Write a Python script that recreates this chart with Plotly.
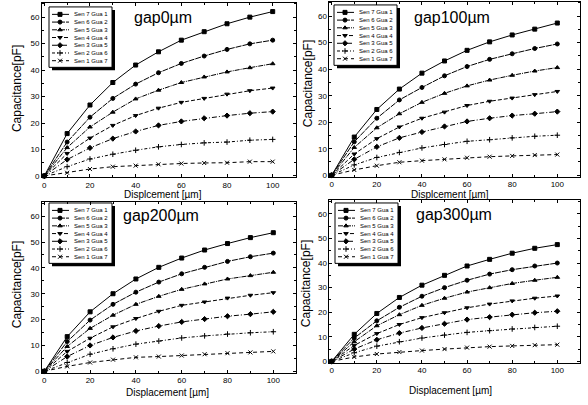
import plotly.graph_objects as go

W, H = 588, 405

displacement = [0, 10, 20, 30, 40, 50, 60, 70, 80, 90, 100]
series_names = ["Sen 7 Gua 1", "Sen 6 Gua 2", "Sen 5 Gua 3", "Sen 4 Gua 4",
                "Sen 3 Gua 5", "Sen 2 Gua 6", "Sen 1 Gua 7"]
gap_labels = ["gap0µm", "gap100µm", "gap200µm", "gap300µm"]
x_titles = ["Displcement [µm]", "Displcement [µm]", "Displacement [µm]", "Displacement [µm]"]
y_title = "Capacitance[pF]"
x_ticks = [0, 20, 40, 60, 80, 100]
y_ticks = [0, 10, 20, 30, 40, 50, 60]

gap0 = [
    [0, 16.0, 26.8, 35.3, 41.9, 46.9, 51.3, 54.5, 57.5, 60.0, 62.1],
    [0, 12.8, 22.2, 29.3, 34.7, 39.0, 42.5, 45.3, 47.8, 49.9, 51.3],
    [0, 10.7, 18.5, 24.1, 29.1, 32.4, 35.3, 37.4, 39.3, 40.9, 42.4],
    [0, 8.5, 14.3, 19.1, 22.8, 25.6, 27.8, 29.3, 30.9, 32.2, 33.2],
    [0, 6.2, 10.6, 14.1, 16.8, 19.1, 20.6, 21.8, 22.8, 23.7, 24.3],
    [0, 3.5, 6.4, 8.2, 9.7, 11.0, 11.9, 12.5, 12.8, 13.5, 13.8],
    [0, 1.2, 2.6, 3.5, 3.9, 4.4, 4.7, 4.9, 5.0, 5.4, 5.4],
]
gap100 = [
    [0, 14.4, 24.8, 32.5, 38.5, 43.1, 47.1, 50.3, 52.9, 55.1, 57.4],
    [0, 12.6, 21.5, 28.4, 33.1, 37.5, 41.0, 43.7, 45.8, 47.8, 49.5],
    [0, 10.5, 17.9, 23.2, 27.5, 30.9, 33.7, 35.9, 37.7, 39.3, 40.6],
    [0, 8.0, 13.8, 18.2, 21.5, 23.8, 26.3, 27.9, 29.1, 30.4, 31.6],
    [0, 6.0, 10.7, 14.1, 16.3, 18.4, 20.3, 21.5, 22.5, 23.2, 24.0],
    [0, 3.9, 6.7, 8.6, 10.3, 11.6, 12.8, 13.4, 14.1, 14.7, 15.1],
    [0, 2.0, 3.6, 4.9, 5.5, 6.0, 6.6, 7.0, 7.3, 7.6, 7.8],
]
gap200 = [
    [0, 13.4, 23.0, 30.0, 35.7, 40.2, 43.8, 46.9, 49.4, 51.7, 53.6],
    [0, 11.5, 19.8, 25.9, 30.6, 34.5, 37.7, 40.2, 42.5, 44.3, 45.7],
    [0, 9.6, 16.6, 21.7, 25.9, 29.0, 31.7, 33.8, 35.7, 37.0, 38.3],
    [0, 7.7, 12.8, 17.2, 20.4, 23.2, 25.5, 26.8, 28.3, 29.4, 30.4],
    [0, 5.7, 10.0, 13.1, 15.6, 17.5, 19.1, 20.2, 21.3, 22.1, 23.0],
    [0, 3.4, 6.6, 8.7, 10.5, 11.7, 12.9, 13.7, 14.4, 14.9, 15.3],
    [0, 1.9, 3.4, 4.5, 5.4, 5.7, 6.1, 6.6, 7.0, 7.3, 7.7],
]
gap300 = [
    [0, 11.0, 19.5, 26.0, 31.0, 35.0, 38.8, 41.5, 44.0, 46.0, 47.5],
    [0, 9.5, 16.5, 22.0, 26.5, 30.0, 33.0, 35.5, 37.3, 38.8, 40.0],
    [0, 8.0, 14.5, 19.0, 22.8, 25.7, 28.2, 30.0, 31.7, 33.0, 34.2],
    [0, 6.5, 11.3, 15.0, 17.8, 19.8, 21.8, 23.3, 24.6, 25.7, 26.6],
    [0, 5.0, 8.8, 11.5, 13.6, 15.3, 17.0, 18.0, 19.0, 19.8, 20.4],
    [0, 3.5, 6.2, 8.0, 9.5, 10.7, 11.8, 12.5, 13.2, 13.8, 14.3],
    [0, 1.8, 3.0, 3.8, 4.4, 5.0, 5.6, 6.0, 6.3, 6.6, 6.8],
]
panels_data = [gap0, gap100, gap200, gap300]

# styles
symbols = ["square", "circle", "triangle-up", "triangle-down", "diamond", "cross-thin", "x-thin"]
dashes = ["solid", "6px,1px", "5px,1px,1px,1px", "4px,2px", "5px,2px,1px,2px", "3px,2px,1px,2px", "4px,3px"]

# panel geometry in pixels: (x of 0, x of 100, y of 0, y of 60)
geom = [
    (44.3, 272.7, 177.7, 17.3),
    (331.7, 557.3, 177.0, 16.3),
    (44.3, 273.3, 375.0, 218.3),
    (331.7, 557.3, 365.0, 216.0),
]
xr = [-1, 110]
yr = [-0.5, 65.5]
legend_box = [(49, 7), (334, 5), (49, 205), (335, 205)]
gap_pos = [(163, 18), (452, 18), (161, 218), (454, 217)]
xtitle_pos = [(163, 196), (450, 196), (167, 396), (450, 394)]
ytitle_pos = [(17, 90), (308, 85), (17, 288), (306, 287)]

fig = go.Figure()
layout = dict(width=W, height=H, margin=dict(l=0, r=0, t=0, b=0),
              paper_bgcolor="white", plot_bgcolor="rgba(0,0,0,0)",
              showlegend=False, font=dict(family="Liberation Sans, Arial", color="black"))
annotations = []
shapes = []

for i, (data, g) in enumerate(zip(panels_data, geom)):
    x0, x100, y0, y60 = g
    sx = (x100 - x0) / 100.0
    sy = (y0 - y60) / 60.0
    left = x0 + xr[0] * sx
    right = x0 + xr[1] * sx
    bottom = y0 - yr[0] * sy
    top = y0 - yr[1] * sy
    n = i + 1
    xa = "xaxis" if n == 1 else f"xaxis{n}"
    ya = "yaxis" if n == 1 else f"yaxis{n}"
    common = dict(showgrid=False, zeroline=False, showline=True, linecolor="black", linewidth=1,
                  mirror="ticks", ticks="inside", ticklen=3, tickwidth=1, tickcolor="black",
                  tickfont=dict(size=8, family="Liberation Sans, Arial", color="black"))
    layout[xa] = dict(common, domain=[left / W, right / W], range=xr, tickvals=x_ticks,
                      anchor=f"y{n}" if n > 1 else "y",
                      minor=dict(ticks="inside", ticklen=2, dtick=10, tickcolor="black"))
    layout[ya] = dict(common, domain=[1 - bottom / H, 1 - top / H], range=yr, tickvals=y_ticks,
                      anchor=f"x{n}" if n > 1 else "x",
                      minor=dict(ticks="inside", ticklen=2, dtick=5, tickcolor="black"))
    xref = "x" if n == 1 else f"x{n}"
    yref = "y" if n == 1 else f"y{n}"
    for k, ys in enumerate(data):
        fig.add_trace(go.Scatter(
            x=displacement, y=ys, mode="lines+markers", xaxis=xref, yaxis=yref,
            line=dict(color="black", width=1, dash=dashes[k]),
            marker=dict(symbol=symbols[k], size=4, color="black",
                        line=dict(color="black", width=1)),
            cliponaxis=False))

    # legend box (shadow + frame)
    bx, by = legend_box[i]
    bw, bh = 63, 61
    shapes.append(dict(type="rect", xref="paper", yref="paper", layer="below",
                       x0=(bx + 3) / W, x1=(bx + bw + 3) / W, y0=1 - (by + bh + 3) / H, y1=1 - (by + 3) / H,
                       fillcolor="black", line=dict(width=0)))
    shapes.append(dict(type="rect", xref="paper", yref="paper", layer="below",
                       x0=bx / W, x1=(bx + bw) / W, y0=1 - (by + bh) / H, y1=1 - by / H,
                       fillcolor="white", line=dict(color="black", width=1)))
    for k, name in enumerate(series_names):
        ry = by + 7.5 + 7.8 * k
        fig.add_trace(go.Scatter(
            x=[bx + 3, bx + 11, bx + 20], y=[ry, ry, ry], mode="lines", xaxis="x5", yaxis="y5",
            line=dict(color="black", width=1, dash=dashes[k]), hoverinfo="skip"))
        fig.add_trace(go.Scatter(
            x=[bx + 11], y=[ry], mode="markers", xaxis="x5", yaxis="y5",
            marker=dict(symbol=symbols[k], size=4, color="black", line=dict(color="black", width=1)),
            hoverinfo="skip"))
        annotations.append(dict(x=(bx + 23) / W, y=1 - ry / H, xref="paper", yref="paper",
                                text=name, showarrow=False, xanchor="left", yanchor="middle",
                                font=dict(size=6, family="Liberation Sans, Arial", color="black")))
    gx, gy = gap_pos[i]
    annotations.append(dict(x=gx / W, y=1 - gy / H, xref="paper", yref="paper", text=gap_labels[i],
                            showarrow=False, xanchor="center", yanchor="middle",
                            font=dict(size=16, family="Liberation Sans, Arial", color="black")))
    tx, ty = xtitle_pos[i]
    annotations.append(dict(x=tx / W, y=1 - ty / H, xref="paper", yref="paper", text=x_titles[i],
                            showarrow=False, xanchor="center", yanchor="middle",
                            font=dict(size=10, family="Liberation Sans, Arial", color="black")))
    vx, vy = ytitle_pos[i]
    annotations.append(dict(x=vx / W, y=1 - vy / H, xref="paper", yref="paper", text=y_title,
                            showarrow=False, xanchor="center", yanchor="middle", textangle=-90,
                            font=dict(size=12, family="Liberation Sans, Arial", color="black")))

layout["xaxis5"] = dict(domain=[0, 1], range=[0, W], visible=False, anchor="y5", fixedrange=True)
layout["yaxis5"] = dict(domain=[0, 1], range=[H, 0], visible=False, anchor="x5", fixedrange=True)
layout["annotations"] = annotations
layout["shapes"] = shapes
fig.update_layout(**layout)
fig.write_html("out.html")
